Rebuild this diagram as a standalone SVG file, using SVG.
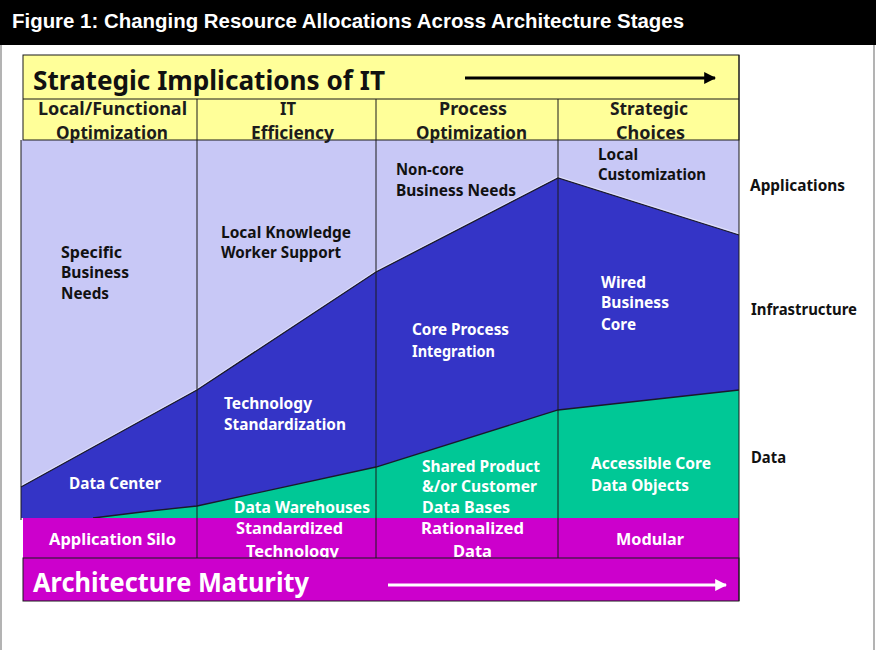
<svg xmlns="http://www.w3.org/2000/svg" width="876" height="650" viewBox="0 0 876 650">
  <defs>
    <style>
      .hdr { font-family: "Noto Sans", "DejaVu Sans", sans-serif; font-weight: bold; font-size: 17px; fill: #1c1c1c; }
      .dk { font-family: "Noto Sans", "DejaVu Sans", sans-serif; font-weight: bold; font-size: 16px; fill: #111; }
      .wt { font-family: "Noto Sans", "DejaVu Sans", sans-serif; font-weight: bold; font-size: 16px; fill: #ffffff; }
      .big { font-family: "Noto Sans", "DejaVu Sans", sans-serif; font-weight: bold; font-size: 26px; }
      .div { stroke: #1a1a1a; stroke-width: 1; fill: none; }
      .edge { stroke: #1a1a2a; stroke-width: 1.3; fill: none; }
    </style>
    <marker id="headBlack" viewBox="0 0 10 10" refX="9" refY="5" markerWidth="4" markerHeight="4" orient="auto" markerUnits="strokeWidth">
      <path d="M0,0 L10,5 L0,10 z" fill="#000"/>
    </marker>
    <marker id="headWhite" viewBox="0 0 10 10" refX="9" refY="5" markerWidth="4" markerHeight="4" orient="auto" markerUnits="strokeWidth">
      <path d="M0,0 L10,5 L0,10 z" fill="#fff"/>
    </marker>
  </defs>

  <!-- page frame and title bar -->
  <rect x="0" y="0" width="876" height="650" fill="#ffffff"/>
  <rect x="1" y="40" width="873" height="612" fill="none" stroke="#9a9a9a" stroke-width="1.5"/>
  <rect x="0" y="0" width="876" height="45" fill="#000000"/>
  <text x="12" y="28" font-family="'Liberation Sans', Arial, sans-serif" font-weight="bold" font-size="21" fill="#ffffff" textLength="672" lengthAdjust="spacingAndGlyphs">Figure 1:  Changing Resource Allocations Across Architecture Stages</text>

  <!-- stacked resource areas -->
  <g id="areas">
    <rect id="applications-area" x="21" y="140" width="718" height="378" fill="#c8c8f6"/>
    <polygon id="infrastructure-area" points="21,487 197,390 376,272 558,178 739,235 739,518 21,518" fill="#3434c6"/>
    <polygon id="data-area" points="93,518 150,511 197,506 376,467 558,410 739,390 739,518" fill="#00c896"/>
    <polyline class="edge" points="21,487 197,390 376,272 558,178 739,235"/>
    <polyline points="21,485.5 197,388.5 376,270.5 558,176.5 739,233.5" fill="none" stroke="#ffffff" stroke-opacity="0.6" stroke-width="0.8"/>
    <polyline class="edge" points="93,518 150,511 197,506 376,467 558,410 739,390"/>
    <line class="div" x1="21" y1="140" x2="21" y2="520"/>
  </g>

  <!-- header band -->
  <g id="header">
    <rect x="23" y="55" width="716" height="85" fill="#ffff99" stroke="#1a1a1a" stroke-width="1"/>
    <line class="div" x1="23" y1="99" x2="739" y2="99"/>
    <text class="big" x="33" y="90" fill="#111" textLength="352" lengthAdjust="spacingAndGlyphs">Strategic Implications of IT</text>
  </g>

  <!-- maturity band -->
  <g id="maturity-row">
    <rect x="23" y="518" width="716" height="40" fill="#cc00cc"/>
  </g>

  <!-- stage columns -->
  <g id="stage-local">
    <text class="hdr" x="38" y="115" textLength="149" lengthAdjust="spacingAndGlyphs">Local/Functional</text>
    <text class="hdr" x="56" y="139" textLength="112" lengthAdjust="spacingAndGlyphs">Optimization</text>
    <text class="dk" x="61" y="258" textLength="61" lengthAdjust="spacingAndGlyphs">Specific</text>
    <text class="dk" x="61" y="278" textLength="68" lengthAdjust="spacingAndGlyphs">Business</text>
    <text class="dk" x="61" y="299" textLength="48" lengthAdjust="spacingAndGlyphs">Needs</text>
    <text class="wt" x="69" y="489" textLength="92" lengthAdjust="spacingAndGlyphs">Data Center</text>
    <text class="wt" x="49" y="545" textLength="127" lengthAdjust="spacingAndGlyphs">Application Silo</text>
  </g>

  <g id="stage-efficiency">
    <text class="hdr" x="280" y="115" textLength="16" lengthAdjust="spacingAndGlyphs">IT</text>
    <text class="hdr" x="251" y="139" textLength="83" lengthAdjust="spacingAndGlyphs">Efficiency</text>
    <text class="dk" x="221" y="238" textLength="130" lengthAdjust="spacingAndGlyphs">Local Knowledge</text>
    <text class="dk" x="221" y="258" textLength="120" lengthAdjust="spacingAndGlyphs">Worker Support</text>
    <text class="wt" x="224" y="409" textLength="88" lengthAdjust="spacingAndGlyphs">Technology</text>
    <text class="wt" x="224" y="430" textLength="122" lengthAdjust="spacingAndGlyphs">Standardization</text>
    <text class="wt" x="234" y="513" textLength="136" lengthAdjust="spacingAndGlyphs">Data Warehouses</text>
    <text class="wt" x="236" y="534" textLength="107" lengthAdjust="spacingAndGlyphs">Standardized</text>
    <text class="wt" x="246" y="557" textLength="93" lengthAdjust="spacingAndGlyphs">Technology</text>
  </g>

  <g id="stage-process">
    <text class="hdr" x="439" y="115" textLength="68" lengthAdjust="spacingAndGlyphs">Process</text>
    <text class="hdr" x="416" y="139" textLength="111" lengthAdjust="spacingAndGlyphs">Optimization</text>
    <text class="dk" x="396" y="175" textLength="68" lengthAdjust="spacingAndGlyphs">Non-core</text>
    <text class="dk" x="396" y="196" textLength="120" lengthAdjust="spacingAndGlyphs">Business Needs</text>
    <text class="wt" x="412" y="335" textLength="97" lengthAdjust="spacingAndGlyphs">Core Process</text>
    <text class="wt" x="412" y="357" textLength="83" lengthAdjust="spacingAndGlyphs">Integration</text>
    <text class="wt" x="422" y="472" textLength="118" lengthAdjust="spacingAndGlyphs">Shared Product</text>
    <text class="wt" x="422" y="492" textLength="115" lengthAdjust="spacingAndGlyphs">&amp;/or Customer</text>
    <text class="wt" x="422" y="513" textLength="88" lengthAdjust="spacingAndGlyphs">Data Bases</text>
    <text class="wt" x="421" y="534" textLength="103" lengthAdjust="spacingAndGlyphs">Rationalized</text>
    <text class="wt" x="453" y="557" textLength="39" lengthAdjust="spacingAndGlyphs">Data</text>
  </g>

  <g id="stage-strategic">
    <text class="hdr" x="610" y="115" textLength="78" lengthAdjust="spacingAndGlyphs">Strategic</text>
    <text class="hdr" x="616" y="139" textLength="69" lengthAdjust="spacingAndGlyphs">Choices</text>
    <text class="dk" x="598" y="160" textLength="40" lengthAdjust="spacingAndGlyphs">Local</text>
    <text class="dk" x="598" y="180" textLength="108" lengthAdjust="spacingAndGlyphs">Customization</text>
    <text class="wt" x="601" y="288" textLength="45" lengthAdjust="spacingAndGlyphs">Wired</text>
    <text class="wt" x="601" y="308" textLength="68" lengthAdjust="spacingAndGlyphs">Business</text>
    <text class="wt" x="601" y="330" textLength="35" lengthAdjust="spacingAndGlyphs">Core</text>
    <text class="wt" x="591" y="469" textLength="120" lengthAdjust="spacingAndGlyphs">Accessible Core</text>
    <text class="wt" x="591" y="491" textLength="98" lengthAdjust="spacingAndGlyphs">Data Objects</text>
    <text class="wt" x="616" y="545" textLength="68" lengthAdjust="spacingAndGlyphs">Modular</text>
  </g>

  <!-- bottom bar -->
  <g id="maturity-bar">
    <rect x="23" y="558" width="716" height="43" fill="#cc00cc" stroke="#1a1a1a" stroke-width="1"/>
    <text class="big" x="33" y="592" fill="#ffffff" textLength="276" lengthAdjust="spacingAndGlyphs">Architecture Maturity</text>
  </g>

  <!-- column dividers and outer edge -->
  <g id="dividers">
    <line class="div" x1="197" y1="99" x2="197" y2="558"/>
    <line class="div" x1="376" y1="99" x2="376" y2="558"/>
    <line class="div" x1="558" y1="99" x2="558" y2="558"/>
    <line class="div" x1="739" y1="55" x2="739" y2="601"/>
  </g>

  <!-- layer labels -->
  <g id="layer-labels">
    <text class="dk" x="750" y="191" textLength="95" lengthAdjust="spacingAndGlyphs">Applications</text>
    <text class="dk" x="751" y="315" textLength="106" lengthAdjust="spacingAndGlyphs">Infrastructure</text>
    <text class="dk" x="751" y="463" textLength="35" lengthAdjust="spacingAndGlyphs">Data</text>
  </g>

  <!-- direction arrows -->
  <g id="connectors">
    <line x1="465" y1="78" x2="715" y2="78" stroke="#000" stroke-width="3" marker-end="url(#headBlack)"/>
    <line x1="388" y1="585" x2="726" y2="585" stroke="#fff" stroke-width="3" marker-end="url(#headWhite)"/>
  </g>
</svg>
